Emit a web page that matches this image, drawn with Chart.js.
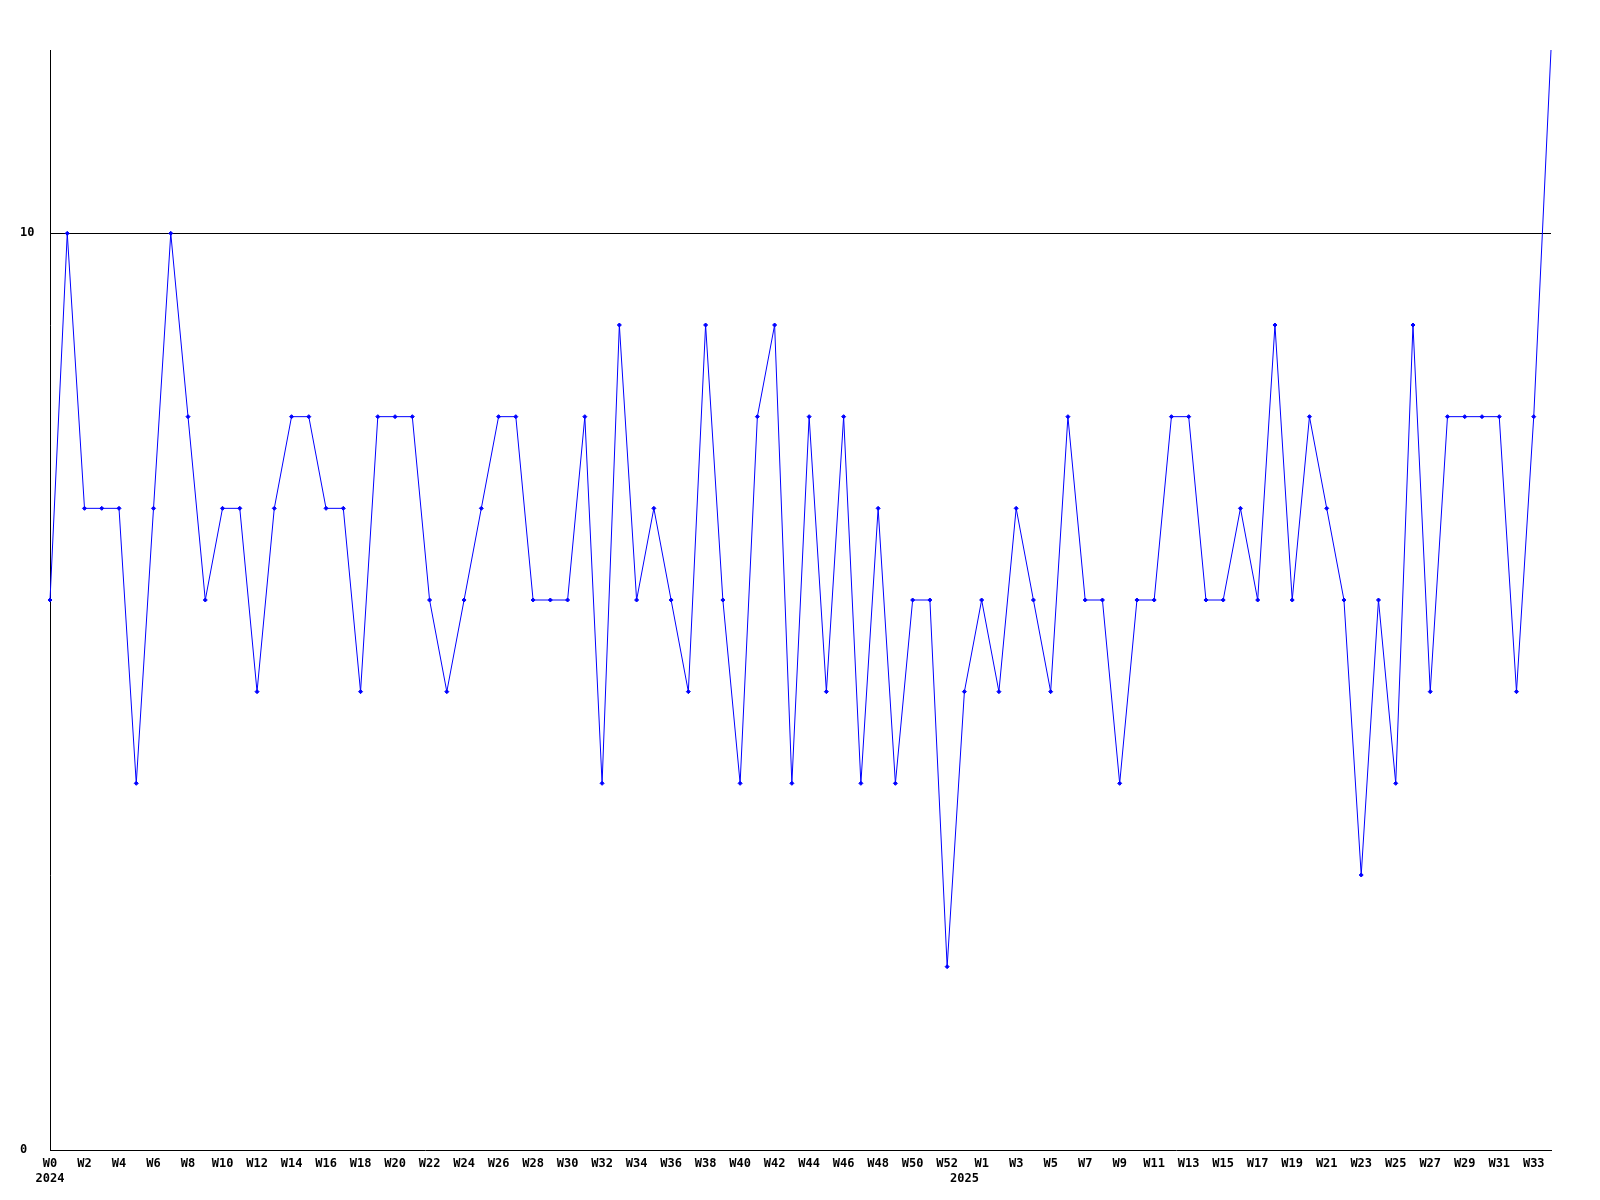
<!DOCTYPE html>
<html>
<head>
<meta charset="utf-8">
<script src="https://cdn.jsdelivr.net/npm/chart.js@4"></script>
<style>
  html, body { margin: 0; padding: 0; background: #fff; }
  #wrap { width: 1600px; height: 1200px; }
</style>
</head>
<body>
<div id="wrap"><canvas id="c" width="1600" height="1200"></canvas></div>
<script>
// weekly values, 2024 W0 .. 2025 W34
const weeks2024 = Array.from({ length: 53 }, (_, i) => 'W' + i)
const weeks2025 = Array.from({ length: 35 }, (_, i) => 'W' + i)
const weekLabels = weeks2024.concat(weeks2025)

const yearAt = [0, 53]
const yearText = ['2024', '2025']

const values2024 = [
  6, 10, 7, 7, 7, 4, 7, 10, 8, 6,
  7, 7, 5, 7, 8, 8, 7, 7, 5, 8,
  8, 8, 6, 5, 6, 7, 8, 8, 6, 6,
  6, 8, 4, 9, 6, 7, 6, 5, 9, 6,
  4, 8, 9, 4, 8, 5, 8, 4, 7, 4,
  6, 6, 2,
]
const values2025 = [
  5, 6, 5, 7, 6, 5, 8, 6, 6, 4,
  6, 6, 8, 8, 6, 6, 7, 6, 9, 6,
  8, 7, 6, 3, 6, 4, 9, 5, 8, 8,
  8, 8, 5, 8, 12,
]
const values = values2024.concat(values2025)

const yMax = 12
const yTicksShown = [0, 10]

const font = { family: 'DejaVu Sans Mono', size: 12, weight: 'bold', lineHeight: '15px' }

new Chart(document.getElementById('c'), {
  type: 'line',
  data: {
    labels: weekLabels,
    datasets: [{
      data: values,
      borderColor: '#0000ff',
      backgroundColor: '#0000ff',
      borderWidth: 1,
      pointStyle: 'rectRot',
      // no marker on the top edge, as in the original
      pointRadius: ctx => (ctx.raw >= yMax ? 0 : 2),
      pointBorderWidth: 1,
      tension: 0,
    }],
  },
  options: {
    responsive: false,
    animation: false,
    layout: { padding: { left: 20, top: 50, right: 49, bottom: 0 } },
    plugins: { legend: { display: false }, tooltip: { enabled: false } },
    scales: {
      x: {
        offset: false,
        grid: { display: false, drawTicks: false },
        border: { display: true, color: '#000', width: 1 },
        afterFit: s => { s.height = 50 },
        ticks: {
          autoSkip: false,
          maxRotation: 0,
          minRotation: 0,
          padding: 6,
          color: '#000',
          font,
          callback: (v, i) => {
            const wk = i % 2 === 0 ? weekLabels[i] : ''
            const y = yearAt.indexOf(i)
            return y >= 0 ? [wk, yearText[y]] : wk
          },
        },
      },
      y: {
        min: 0,
        max: yMax,
        afterBuildTicks: s => { s.ticks = s.ticks.filter(t => yTicksShown.includes(t.value)) },
        afterFit: s => { s.width = 30 },
        grid: {
          drawTicks: false,
          color: c => (c.tick && c.tick.value === 10 ? '#000' : 'rgba(0,0,0,0)'),
          lineWidth: 1,
        },
        border: { display: true, color: '#000', width: 1 },
        ticks: {
          stepSize: 10,
          crossAlign: 'far',
          color: '#000',
          font,
        },
      },
    },
  },
})
</script>
</body>
</html>
